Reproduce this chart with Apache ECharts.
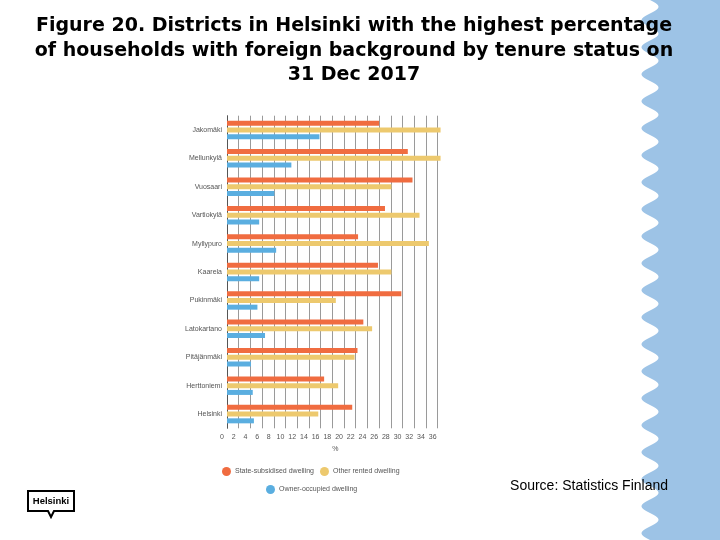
<!DOCTYPE html>
<html>
<head>
    <meta charset="utf-8">
    <title>Figure 20</title>
    <script src="https://cdn.jsdelivr.net/npm/echarts@6/dist/echarts.min.js"></script>
    <style>
        html, body { margin: 0; padding: 0; background: #fff; }
        #chart1 { width: 720px; height: 540px; }
    </style>
</head>
<body>
<div id="chart1"></div>
<script type="text/javascript">
    // 数据
    var districts = ['Jakomäki', 'Mellunkylä', 'Vuosaari', 'Vartiokylä', 'Myllypuro', 'Kaarela',
        'Pukinmäki', 'Latokartano', 'Pitäjänmäki', 'Herttoniemi', 'Helsinki'];
    var stateSubsidised = [26.0, 30.9, 31.7, 27.0, 22.4, 25.8, 29.8, 23.3, 22.3, 16.6, 21.4];
    var otherRented = [36.5, 36.5, 28.1, 32.9, 34.5, 28.1, 18.6, 24.8, 21.8, 19.0, 15.6];
    var ownerOccupied = [15.8, 11.0, 8.1, 5.5, 8.4, 5.5, 5.2, 6.5, 4.1, 4.4, 4.6];
    var seriesNames = ['State-subsidised dwelling', 'Other rented dwelling', 'Owner-occupied dwelling'];

    // 右侧波浪装饰
    var wave = [[720, -10]];
    for (var y = -10; y <= 550; y++) {
        wave.push([650 + 8.5 * Math.sin(2 * Math.PI * y / 27), y]);
    }
    wave.push([720, 550]);

    var myChart = echarts.init(document.getElementById('chart1'));
    myChart.setOption({
        animation: false,
        title: {
            text: 'Figure 20. Districts in Helsinki with the highest percentage\nof households with foreign background by tenure status on\n31 Dec 2017',
            left: 349,
            top: 9,
            textAlign: 'center',
            textStyle: {
                fontFamily: 'DejaVu Sans',
                fontWeight: 'bold',
                fontSize: 19,
                lineHeight: 24.5,
                color: '#000'
            }
        },
        legend: [{
            data: seriesNames.slice(0, 2),
            left: 217,
            top: 462,
            icon: 'circle',
            itemWidth: 9,
            itemHeight: 9,
            itemGap: 6,
            textStyle: { fontSize: 7, color: '#555', padding: [0, 0, 0, -1] }
        }, {
            data: seriesNames.slice(2),
            left: 261,
            top: 480,
            icon: 'circle',
            itemWidth: 9,
            itemHeight: 9,
            textStyle: { fontSize: 7, color: '#555', padding: [0, 0, 0, -1] }
        }],
        grid: {
            left: 227,
            top: 115.7,
            bottom: 111.7,
            right: 276.5,
            containLabel: false
        },
        xAxis: {
            type: 'value',
            min: 0,
            max: 37,
            interval: 2,
            name: '%',
            nameLocation: 'middle',
            nameGap: 14,
            nameTextStyle: { fontSize: 7, color: '#555' },
            axisLine: { show: false },
            axisTick: { show: false },
            axisLabel: {
                fontSize: 7,
                color: '#555',
                margin: 5,
                padding: [0, 10, 0, 0],
                showMaxLabel: false
            },
            splitLine: {
                showMinLine: false,
                showMaxLine: false,
                lineStyle: { color: '#9a9a9a', width: 1 }
            }
        },
        yAxis: {
            type: 'category',
            data: districts,
            inverse: true,
            axisLine: { lineStyle: { color: '#555', width: 1 } },
            axisTick: { length: 44, lineStyle: { color: '#555', width: 1 } },
            axisLabel: { fontSize: 7, color: '#555', margin: 5 }
        },
        series: [{
            name: seriesNames[0],
            type: 'bar',
            data: stateSubsidised,
            barWidth: 5,
            barGap: '35%',
            itemStyle: { color: '#f06c40' }
        }, {
            name: seriesNames[1],
            type: 'bar',
            data: otherRented,
            barWidth: 5,
            barGap: '35%',
            itemStyle: { color: '#edc96e' }
        }, {
            name: seriesNames[2],
            type: 'bar',
            data: ownerOccupied,
            barWidth: 5,
            barGap: '35%',
            itemStyle: { color: '#5aaee0' }
        }],
        graphic: [{
            type: 'polygon',
            shape: { points: wave },
            style: { fill: '#9dc3e6' },
            silent: true
        }, {
            type: 'text',
            right: 52,
            top: 479,
            style: {
                text: 'Source: Statistics Finland',
                fontFamily: 'Liberation Sans',
                fontSize: 14,
                fill: '#000'
            }
        }, {
            type: 'group',
            left: 27,
            top: 490,
            children: [{
                type: 'polygon',
                shape: { points: [[1, 1], [47, 1], [47, 21], [27, 21], [24, 27], [21, 21], [1, 21]] },
                style: { fill: '#fff', stroke: '#000', lineWidth: 2 }
            }, {
                type: 'text',
                x: 24,
                y: 11.5,
                style: {
                    text: 'Helsinki',
                    fontFamily: 'Liberation Sans',
                    fontWeight: 'bold',
                    fontSize: 9.5,
                    fill: '#000',
                    align: 'center',
                    verticalAlign: 'middle'
                }
            }]
        }]
    });
</script>
</body>
</html>
